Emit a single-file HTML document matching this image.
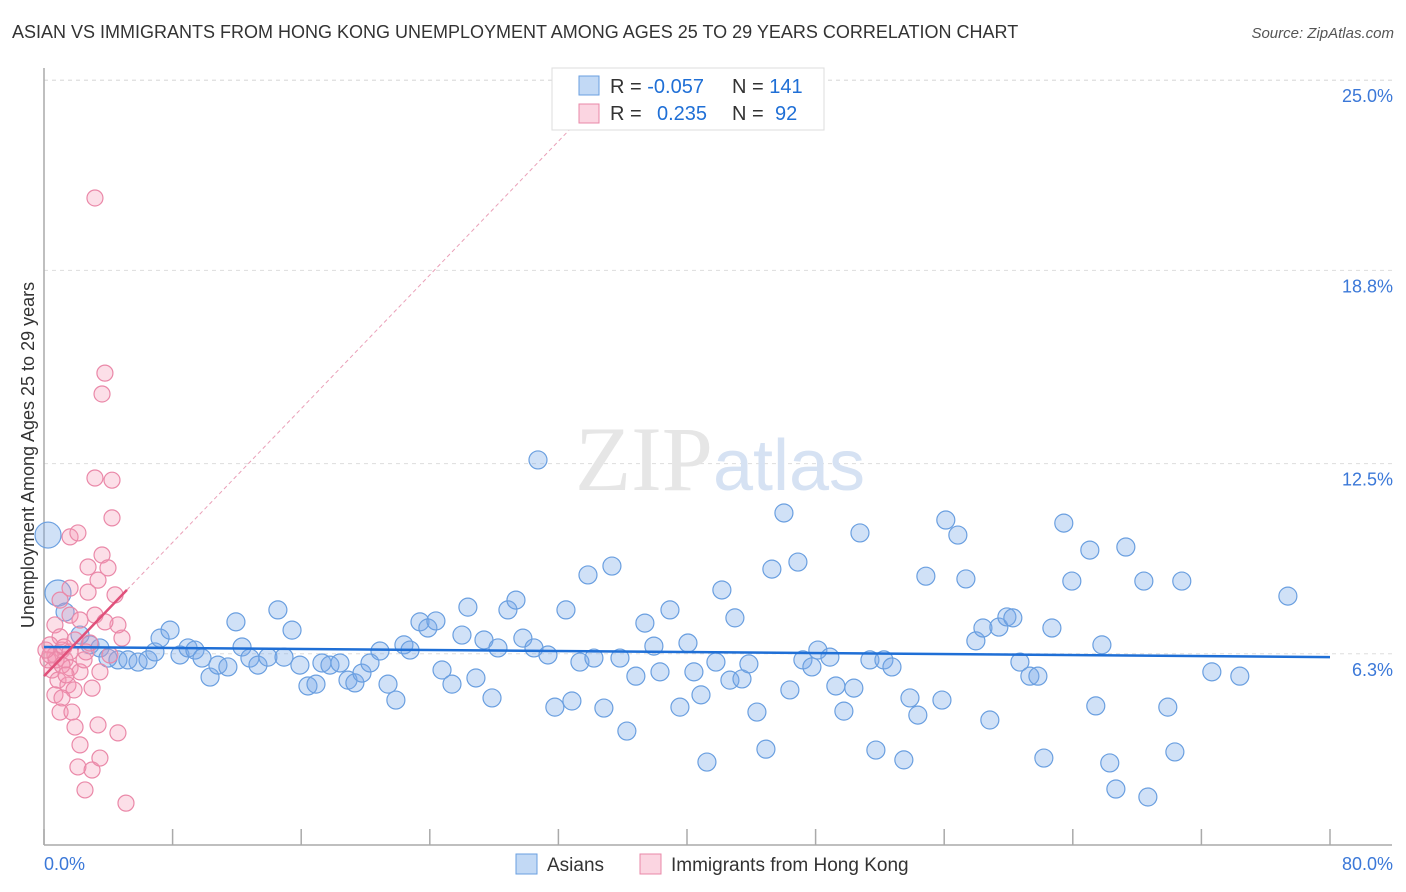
<!DOCTYPE html>
<html><head><meta charset="utf-8"><style>
body{margin:0;background:#fff;font-family:"Liberation Sans",sans-serif;}
#wrap{position:relative;width:1406px;height:892px;overflow:hidden;}
.t{position:absolute;white-space:nowrap;}
</style></head><body>
<div id="wrap">
<div class="t" style="left:12px;top:22px;font-size:18px;color:#333;">ASIAN VS IMMIGRANTS FROM HONG KONG UNEMPLOYMENT AMONG AGES 25 TO 29 YEARS CORRELATION CHART</div>
<div class="t" style="right:12px;top:25px;font-size:15px;color:#555;font-style:italic;">Source: ZipAtlas.com</div>
<svg id="svg" width="1406" height="892" style="position:absolute;left:0;top:0"></svg>
</div>
<script>
const xTicks=[0,8,16,24,32,40,48,56,64,72,80];
const yTicks=[6.3,12.5,18.8,25.0];
const yTickLabels=["6.3%","12.5%","18.8%","25.0%"];
const asianX=[0.25,0.87,1.31,2.24,2.86,3.48,3.98,4.6,5.22,5.85,6.47,6.9,7.22,7.84,8.46,8.96,9.39,9.83,10.33,10.82,11.44,11.94,12.32,12.81,13.31,13.93,14.55,14.93,15.43,15.92,16.42,16.92,17.29,17.79,18.41,18.91,19.34,19.78,20.28,20.9,21.4,21.89,22.39,22.77,23.39,23.88,24.38,24.76,25.38,26.0,26.37,26.87,27.37,27.87,28.24,28.86,29.36,29.79,30.48,30.73,31.35,31.78,32.47,32.84,33.34,33.84,34.21,34.83,35.33,35.83,36.26,36.82,37.38,37.94,38.32,38.94,39.56,40.06,40.43,40.87,41.24,41.8,42.17,42.67,42.98,43.42,43.85,44.35,44.91,45.28,46.03,46.4,46.9,47.21,47.77,48.14,48.89,49.26,49.76,50.38,50.76,51.38,51.75,52.25,52.75,53.49,53.87,54.36,54.86,55.86,56.1,56.85,57.35,57.97,58.41,58.84,59.4,59.9,60.27,60.71,61.33,61.83,62.2,62.7,63.44,63.94,65.06,65.43,65.81,66.3,66.68,67.3,68.42,68.67,69.91,70.35,70.78,72.65,74.39,77.38];
const asianY=[10.17,8.28,7.66,6.91,6.59,6.49,6.16,6.10,6.10,6.03,6.10,6.36,6.81,7.07,6.26,6.49,6.42,6.16,5.54,5.93,5.87,7.34,6.52,6.16,5.93,6.19,7.73,6.19,7.07,5.93,5.25,5.31,6.0,5.93,6.0,5.44,5.35,5.67,6.0,6.39,5.31,4.79,6.59,6.42,7.34,7.14,7.37,5.77,5.31,6.91,7.82,5.51,6.75,4.86,6.49,7.73,8.05,6.81,6.49,12.62,6.26,4.56,7.73,4.76,6.03,8.87,6.16,4.53,9.16,6.16,3.78,5.57,7.3,6.55,5.71,7.73,4.56,6.65,5.71,4.96,2.77,6.03,8.38,5.44,7.47,5.48,5.97,4.40,3.19,9.06,10.89,5.12,9.29,6.10,5.87,6.42,6.19,5.25,4.43,5.18,10.24,6.10,3.16,6.10,5.87,2.84,4.86,4.30,8.83,4.79,10.66,10.17,8.74,6.72,7.14,4.14,7.17,7.5,7.47,6.03,5.57,5.57,2.90,7.14,10.56,8.67,9.68,4.60,6.59,2.74,1.89,9.78,8.67,1.63,4.56,3.10,8.67,5.71,5.57,8.18];
const hkX=[3.17,3.79,3.61,3.17,4.23,4.23,1.62,2.11,3.61,3.98,2.74,3.36,1.62,2.74,4.42,1.0,3.17,1.62,2.24,4.85,0.68,1.0,1.93,2.86,0.37,0.68,1.12,0.25,1.31,1.62,0.5,2.24,3.48,0.87,1.49,2.99,0.68,1.87,1.12,1.0,1.74,3.36,1.93,2.24,4.6,2.11,2.99,3.48,2.55,5.1,0.37,0.75,1.12,0.12,1.37,2.49,2.61,4.1,4.6,3.79,1.24,1.62];
const hkY=[21.16,15.45,14.77,12.03,11.96,10.73,10.11,10.24,9.52,9.1,9.13,8.7,8.44,8.31,8.22,8.05,7.56,7.56,7.4,6.81,7.24,6.85,6.75,6.65,6.59,6.26,6.42,6.10,6.10,5.84,5.77,5.71,5.71,5.44,5.28,5.18,4.96,5.12,4.86,4.4,4.4,3.98,3.91,3.33,3.72,2.61,2.51,2.90,1.86,1.43,6.26,6.10,5.93,6.42,5.61,6.10,6.36,6.26,7.24,7.34,6.52,6.36];
const asianTrend=[6.52,-0.0041];
const hkTrend=[5.57,0.545];
const hkSolidEnd=5.16;

const X=v=>44+v/80*1286;
const Y=v=>847-v/6.25*191.7;
const svg=document.getElementById('svg');
const NS='http://www.w3.org/2000/svg';
function mk(tag,attrs,parent){const e=document.createElementNS(NS,tag);for(const k in attrs)e.setAttribute(k,attrs[k]);(parent||svg).appendChild(e);return e;}

// gridlines
yTicks.forEach((t,i)=>{
  const g=mk('line',{x1:44,x2:1392,y1:Y(t),y2:Y(t),stroke:'#ddd','stroke-dasharray':'4,4'});
  
  
  const tx=mk('text',{x:1393,y:Y(t)+22,'text-anchor':'end','font-size':18,fill:'#3b78d8','font-family':'Liberation Sans, sans-serif'});
  tx.textContent=yTickLabels[i];
  
  
});
const topg=mk('line',{x1:44,x2:1392,y1:Y(25),y2:Y(25),stroke:'#ddd','stroke-dasharray':'4,4'});
// axes
const ya=mk('line',{x1:44,x2:44,y1:68,y2:845,stroke:'#aaa','stroke-width':1.5});


const xa=mk('line',{x1:44,x2:1392,y1:845,y2:845,stroke:'#aaa','stroke-width':1.5});


xTicks.forEach(t=>{
  const l=mk('line',{x1:X(t),x2:X(t),y1:829,y2:845,stroke:'#aaa','stroke-width':1.5});
  
  
});
// watermark
const wm=mk('text',{x:720,y:490,'text-anchor':'middle','font-size':92,fill:'#e6e6e6','font-family':'Liberation Serif, serif'});
wm.innerHTML='ZIP<tspan fill="#d6e2f3" font-family="Liberation Sans, sans-serif" font-size="72">atlas</tspan>';


// points
asianX.forEach((x,i)=>{
  const r=i<2?13:9;
  const c=mk('circle',{cx:X(x),cy:Y(asianY[i]),r:r,fill:'rgba(120,170,232,0.35)',stroke:'#6a9fe0','stroke-width':1.2});
  
  
});
hkX.forEach((x,i)=>{
  const c=mk('circle',{cx:X(x),cy:Y(hkY[i]),r:8,fill:'rgba(244,150,180,0.3)',stroke:'#ea88a8','stroke-width':1.2});
  
  
});
// trends
const at=mk('line',{x1:X(0),y1:Y(asianTrend[0]),x2:X(80),y2:Y(asianTrend[0]+asianTrend[1]*80),stroke:'#1f6fd6','stroke-width':2.5});


const xEnd=(25-hkTrend[0])/hkTrend[1];
const hd=mk('line',{x1:X(hkSolidEnd),y1:Y(hkTrend[0]+hkTrend[1]*hkSolidEnd),x2:X(xEnd),y2:Y(25),stroke:'#eaa0b8','stroke-width':1,'stroke-dasharray':'4,3'});


const hs=mk('line',{x1:X(0),y1:Y(hkTrend[0]),x2:X(hkSolidEnd),y2:Y(hkTrend[0]+hkTrend[1]*hkSolidEnd),stroke:'#e0507a','stroke-width':2.5});


// x labels
const xl0=mk('text',{x:44,y:870,'font-size':18,fill:'#3b78d8','font-family':'Liberation Sans, sans-serif'});
xl0.textContent='0.0%';


const xl1=mk('text',{x:1393,y:870,'text-anchor':'end','font-size':18,fill:'#3b78d8','font-family':'Liberation Sans, sans-serif'});
xl1.textContent='80.0%';


const yt=mk('text',{x:0,y:0,transform:'translate(34,455) rotate(-90)','text-anchor':'middle','font-size':18,fill:'#333','font-family':'Liberation Sans, sans-serif'});
yt.textContent='Unemployment Among Ages 25 to 29 years';


// legend box
const lg=mk('g',{});


mk('rect',{x:552,y:68,width:272,height:62,fill:'#fff',stroke:'#ddd'},lg);
mk('rect',{x:579,y:76,width:20,height:19,fill:'rgba(120,170,232,0.45)',stroke:'#6a9fe0'},lg);
mk('rect',{x:579,y:104,width:20,height:19,fill:'rgba(244,150,180,0.4)',stroke:'#ea88a8'},lg);
const l1=mk('text',{x:610,y:93,'font-size':20,fill:'#333','font-family':'Liberation Sans, sans-serif'},lg);
l1.innerHTML='R = <tspan fill="#1f6fd6">-0.057</tspan>   <tspan x="732">N = </tspan><tspan fill="#1f6fd6">141</tspan>';
const l2=mk('text',{x:610,y:120,'font-size':20,fill:'#333','font-family':'Liberation Sans, sans-serif'},lg);
l2.innerHTML='R = <tspan x="657" fill="#1f6fd6">0.235</tspan><tspan x="732">N = </tspan><tspan x="775" fill="#1f6fd6">92</tspan>';
// bottom legend
const bl=mk('g',{});


mk('rect',{x:516,y:854,width:21,height:20,fill:'rgba(120,170,232,0.45)',stroke:'#6a9fe0'},bl);
const b1=mk('text',{x:547,y:871,'font-size':19,fill:'#333','font-family':'Liberation Sans, sans-serif'},bl);
b1.textContent='Asians';
mk('rect',{x:640,y:854,width:21,height:20,fill:'rgba(244,150,180,0.4)',stroke:'#ea88a8'},bl);
const b2=mk('text',{x:671,y:871,'font-size':19,fill:'#333','font-family':'Liberation Sans, sans-serif'},bl);
b2.textContent='Immigrants from Hong Kong';
</script>
</body></html>
